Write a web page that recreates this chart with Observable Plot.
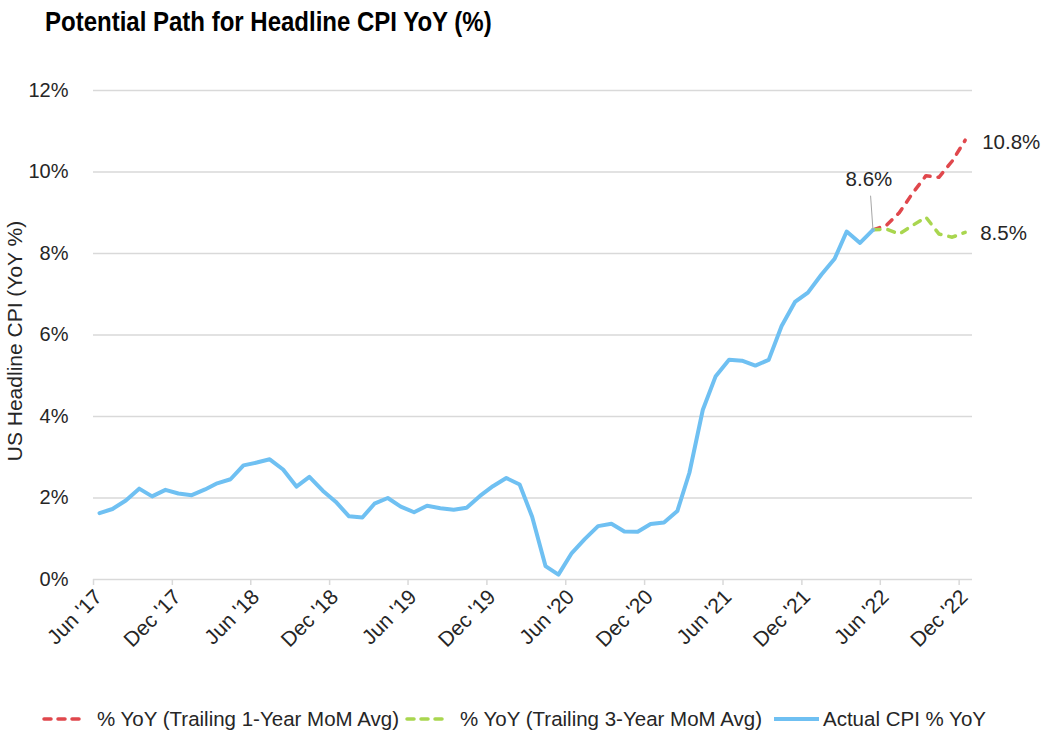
<!DOCTYPE html>
<html>
<head>
<meta charset="utf-8">
<script src="https://cdn.jsdelivr.net/npm/d3@7"></script>
<script src="https://cdn.jsdelivr.net/npm/@observablehq/plot@0.6"></script>
<style>
  html, body { margin: 0; padding: 0; background: #fff; }
  body { font-family: "Liberation Sans", Arial, sans-serif; color: #262626; }
  #wrap { position: relative; width: 1045px; height: 734px; overflow: hidden; }
  #title { position: absolute; left: 45px; top: 8px; font-weight: bold; font-size: 28px; line-height: 28px;
           color: #000; white-space: nowrap; transform: scaleX(0.857); transform-origin: left top; }
  #chart { position: absolute; left: 0; top: 0; }
  .leg { position: absolute; top: 706px; height: 26px; line-height: 26px; font-size: 20.5px; white-space: nowrap; color: #262626; }
  .sw { position: absolute; top: 707px; height: 24px; }
</style>
</head>
<body>
<div id="wrap">
  <div id="chart"></div>
  <div id="title">Potential Path for Headline CPI YoY (%)</div>
  <div id="legend"></div>
</div>
<script>
// ---------- data ----------
const titleText = "Potential Path for Headline CPI YoY (%)";
const yLabel = "US Headline CPI (YoY %)";

// Actual CPI % YoY, monthly from Jun 2017 to May 2022
const actualStart = [2017, 5]; // year, month index (Jun)
const actualValues = [
  1.63, 1.73, 1.94, 2.23, 2.04, 2.20, 2.11,                         // Jun–Dec 2017
  2.07, 2.21, 2.36, 2.46, 2.80, 2.87, 2.95, 2.70, 2.28, 2.52, 2.18, 1.91, // 2018
  1.55, 1.52, 1.86, 2.00, 1.79, 1.65, 1.81, 1.75, 1.71, 1.76, 2.05, 2.29, // 2019
  2.49, 2.33, 1.54, 0.33, 0.12, 0.65, 0.99, 1.31, 1.37, 1.18, 1.17, 1.36, // 2020
  1.40, 1.68, 2.62, 4.16, 4.99, 5.39, 5.37, 5.25, 5.39, 6.22, 6.81, 7.04, // 2021
  7.48, 7.87, 8.54, 8.26, 8.58                                       // Jan–May 2022
];

// Projections, monthly from May 2022 to Dec 2022
const projStart = [2022, 4]; // May 2022
const trailing1YValues = [8.58, 8.69, 9.00, 9.48, 9.91, 9.87, 10.27, 10.78];
const trailing3YValues = [8.58, 8.60, 8.48, 8.69, 8.89, 8.48, 8.40, 8.52];

const seriesNames = ["% YoY (Trailing 1-Year MoM Avg)", "% YoY (Trailing 3-Year MoM Avg)", "Actual CPI % YoY"];
const seriesColors = ["#e0474c", "#a9d64f", "#6fc0f2"];

const yTicks = [0, 2, 4, 6, 8, 10, 12];
const xTickMonths = ["2017-06", "2017-12", "2018-06", "2018-12", "2019-06", "2019-12",
                     "2020-06", "2020-12", "2021-06", "2021-12", "2022-06", "2022-12"];
const xDomain = ["2017-06", "2023-01"];

const endLabels = ["10.8%", "8.5%"];
const peakLabel = "8.6%";

// ---------- build tables ----------
const monthMid = (y, m, i) => new Date(Date.UTC(y, m + i, 15));
const monthStart = s => { const [y, m] = s.split("-").map(Number); return new Date(Date.UTC(y, m - 1, 1)); };

const actual = actualValues.map((v, i) => ({date: monthMid(actualStart[0], actualStart[1], i), value: v}));
const t1 = trailing1YValues.map((v, i) => ({date: monthMid(projStart[0], projStart[1], i), value: v}));
const t3 = trailing3YValues.map((v, i) => ({date: monthMid(projStart[0], projStart[1], i), value: v}));
const xTicks = xTickMonths.map(monthStart);

const lastT1 = [{...t1[t1.length - 1], label: endLabels[0]}];
const lastT3 = [{...t3[t3.length - 1], label: endLabels[1]}];
const lastActual = [{...actual[actual.length - 1], label: peakLabel}];

const fmtTick = d3.utcFormat("%b '%y");
const leaderShape = { draw(context, l) { context.moveTo(0, 0); context.lineTo(0, -l); } };

const chart = Plot.plot({
  width: 1045,
  height: 690,
  marginTop: 90,
  marginBottom: 111,
  marginLeft: 93,
  marginRight: 73,
  style: {fontFamily: "'Liberation Sans', Arial, sans-serif", fontSize: "20px", color: "#262626", background: "transparent"},
  x: {type: "utc", domain: xDomain.map(monthStart)},
  y: {domain: [0, 12]},
  marks: [
    Plot.gridY(yTicks.filter(d => d > 0), {stroke: "#d9d9d9", strokeOpacity: 1, strokeWidth: 1.5}),
    Plot.ruleY([0], {stroke: "#d9d9d9", strokeWidth: 1.5}),
    Plot.axisX(xTicks, {tickFormat: fmtTick, tickRotate: -45, tickSize: 6, tickPadding: 6, text: null,
      stroke: "#d9d9d9", strokeWidth: 1.5, label: null}),
    Plot.axisX(xTicks, {tickFormat: fmtTick, tickRotate: -45, tickSize: 0, tickPadding: 12, dx: 5, dy: 2,
      fill: "#262626", fontSize: 21, label: null}),
    Plot.axisY(yTicks, {tickFormat: d => d + "%", tickSize: 0, tickPadding: 25, fill: "#262626", fontSize: 20,
      label: null}),
    Plot.text([yLabel], {frameAnchor: "left", text: d => d, rotate: -90, dx: -78, dy: 6,
      fontSize: 21, fill: "#262626", textAnchor: "middle", lineAnchor: "middle"}),
    Plot.lineY(t1, {x: "date", y: "value", stroke: seriesColors[0], strokeWidth: 3.5,
      strokeDasharray: "7,8", strokeLinecap: "round", strokeLinejoin: "round"}),
    Plot.lineY(t3, {x: "date", y: "value", stroke: seriesColors[1], strokeWidth: 3.5,
      strokeDasharray: "7,8", strokeLinecap: "round", strokeLinejoin: "round"}),
    Plot.lineY(actual, {x: "date", y: "value", stroke: seriesColors[2], strokeWidth: 4,
      strokeLinejoin: "round", strokeLinecap: "round"}),
    Plot.vector(lastActual, {x: "date", y: "value", length: 34, rotate: -4, anchor: "start",
      shape: leaderShape, stroke: "#a6a6a6", strokeWidth: 1}),
    Plot.text(lastActual, {x: "date", y: "value", text: "label", dx: -4, dy: -50, fontSize: 20.5, fill: "#262626"}),
    Plot.text(lastT1, {x: "date", y: "value", text: "label", dx: 17, dy: 2, textAnchor: "start", fontSize: 20.5, fill: "#262626"}),
    Plot.text(lastT3, {x: "date", y: "value", text: "label", dx: 15, dy: 1, textAnchor: "start", fontSize: 20.5, fill: "#262626"})
  ]
});
document.getElementById("chart").appendChild(chart);

// ---------- legend ----------
const legendLayout = [
  {sw: 42, sww: 41, tx: 97, dash: "7,7"},
  {sw: 405, sww: 44, tx: 460, dash: "7,7"},
  {sw: 772, sww: 49, tx: 823, dash: null}
];
const leg = document.getElementById("legend");
seriesNames.forEach((name, i) => {
  const L = legendLayout[i];
  const ns = "http://www.w3.org/2000/svg";
  const svg = document.createElementNS(ns, "svg");
  svg.setAttribute("class", "sw");
  svg.setAttribute("width", L.sww);
  svg.setAttribute("height", 24);
  svg.style.left = L.sw + "px";
  const ln = document.createElementNS(ns, "line");
  ln.setAttribute("x1", 2); ln.setAttribute("x2", L.sww - 2);
  ln.setAttribute("y1", 12); ln.setAttribute("y2", 12);
  ln.setAttribute("stroke", seriesColors[i]);
  ln.setAttribute("stroke-width", L.dash ? 3.5 : 4);
  if (L.dash) { ln.setAttribute("stroke-dasharray", L.dash); ln.setAttribute("stroke-linecap", "round"); }
  svg.appendChild(ln);
  leg.appendChild(svg);
  const t = document.createElement("div");
  t.className = "leg";
  t.style.left = L.tx + "px";
  t.textContent = name;
  leg.appendChild(t);
});
</script>
</body>
</html>
